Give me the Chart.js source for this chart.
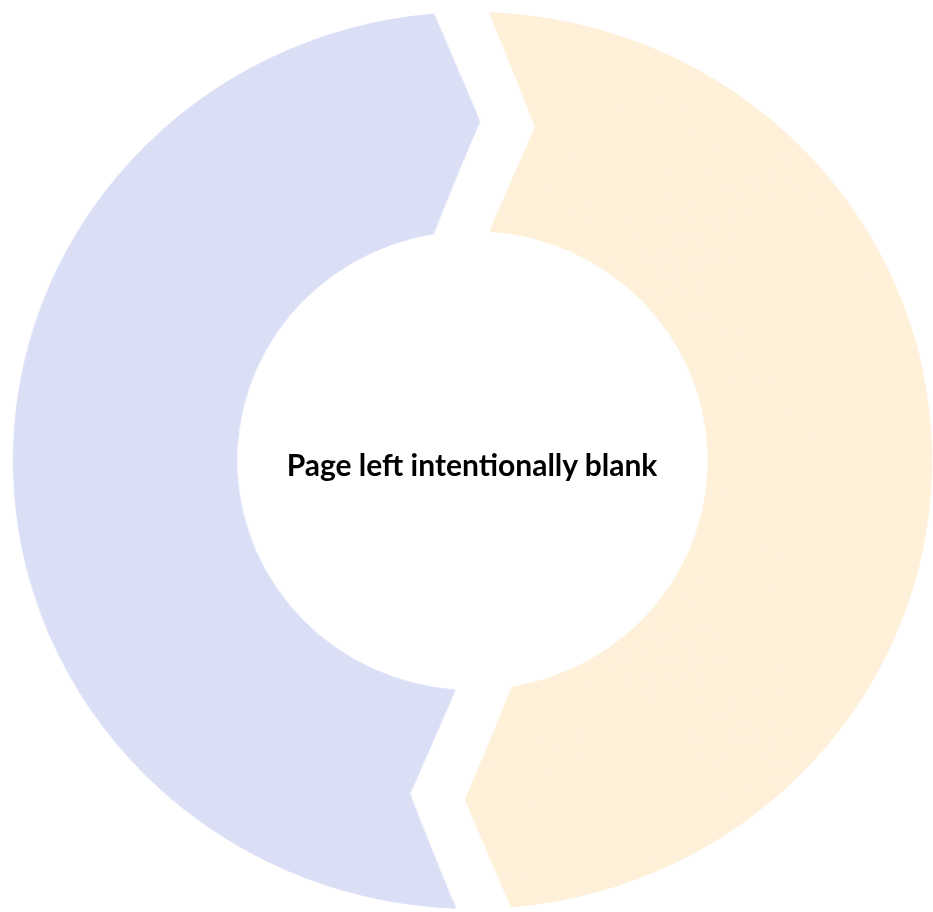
<!DOCTYPE html>
<html>
<head>
<meta charset="utf-8">
<script src="https://cdn.jsdelivr.net/npm/chart.js@4.4.1/dist/chart.umd.min.js"></script>
<style>
  html, body { margin: 0; padding: 0; background: #fff; overflow: hidden; }
  #wrap { position: relative; width: 933px; height: 912px; }
  #stretch { position: absolute; left: 0; top: 0; width: 933px; height: 912px;
             transform: scaleX(1.025); transform-origin: 472.5px 460.5px; }
  #blank { position: absolute; left: 0; width: 944px; top: 446px; line-height: 30px;
           text-align: center; font: bold 30px Lato, sans-serif; color: #000; white-space: nowrap; }
</style>
</head>
<body>
<div id="wrap">
  <div id="stretch"><canvas id="ringChart" width="933" height="912"></canvas></div>
  <div id="blank">Page left intentionally blank</div>
</div>
<script>
// two halves, orange starts at the top and runs clockwise
const segmentLabels = ['Right half', 'Left half'];
const segmentValues = [50, 50];
const segmentColors = ['#fef0d9', '#dbdff6'];

// the ring is cut into thin rings, each turned a bit, so the gaps get the chevron shape
const ringCount = 80;
const outerR = 448;
const innerR = 230;
const gapHalf = 17;
const sideShift = -10.7;   // px, whole cut sits a little counter-clockwise
const chevronShift = 45;   // px at the middle of the band

const ringWidth = (outerR - innerR) / ringCount;
const midR = (outerR + innerR) / 2;
const halfBand = (outerR - innerR) / 2;

const datasets = [];
for (let i = 0; i < ringCount; i++) {
    const r = outerR - (i + 0.5) * ringWidth;
    const shift = sideShift + chevronShift * (1 - Math.abs(r - midR) / halfBand);
    datasets.push({
        data: segmentValues,
        backgroundColor: segmentColors,
        borderColor: segmentColors,
        borderWidth: 1,
        spacing: gapHalf * 2,
        rotation: shift / r * 180 / Math.PI
    });
}

const ctx = document.getElementById('ringChart').getContext('2d');
new Chart(ctx, {
    type: 'doughnut',
    data: {
        labels: segmentLabels,
        datasets: datasets
    },
    options: {
        responsive: false,
        animation: false,
        events: [],
        radius: outerR - gapHalf,
        cutout: ((innerR - gapHalf) / (outerR - gapHalf) * 100) + '%',
        layout: { padding: { left: 12, top: 9, right: 0, bottom: 0 } },
        plugins: {
            legend: { display: false },
            tooltip: { enabled: false }
        }
    }
});
</script>
</body>
</html>
